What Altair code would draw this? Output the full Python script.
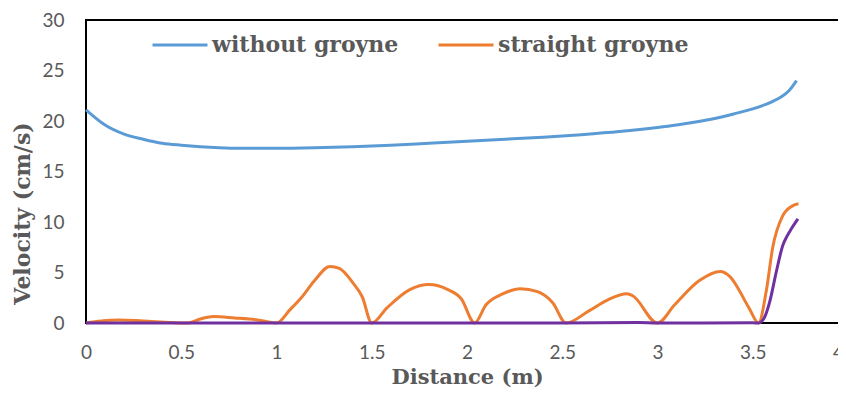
import altair as alt
import pandas as pd

# ---- data ----
blue_x = [0, 0.1, 0.2, 0.3, 0.4, 0.5, 0.6, 0.7, 0.8, 0.9, 1.0, 1.2, 1.4, 1.6, 1.8,
          2.0, 2.2, 2.4, 2.6, 2.8, 3.0, 3.1, 3.2, 3.3, 3.4, 3.5, 3.6, 3.65, 3.69, 3.73]
blue_v = [21.1, 19.6, 18.7, 18.2, 17.8, 17.6, 17.45, 17.35, 17.3, 17.3, 17.3, 17.35,
          17.45, 17.6, 17.8, 18.0, 18.2, 18.4, 18.65, 18.95, 19.35, 19.6, 19.9, 20.25,
          20.7, 21.2, 21.9, 22.4, 23.0, 24.0]

orange_x = [0, 0.08, 0.17, 0.3, 0.45, 0.53, 0.6, 0.67, 0.78, 0.9, 1.0, 1.07, 1.13, 1.2,
            1.28, 1.33, 1.4, 1.45, 1.5, 1.58, 1.7, 1.8, 1.9, 1.97, 2.04, 2.1, 2.19,
            2.28, 2.37, 2.45, 2.52, 2.64, 2.74, 2.84, 2.87, 3.0, 3.09, 3.22, 3.33,
            3.38, 3.48, 3.53, 3.573, 3.604, 3.657, 3.709, 3.74]
orange_v = [0, 0.2, 0.3, 0.2, 0.05, 0, 0.4, 0.65, 0.5, 0.3, 0, 1.3, 2.5, 4.2,
            5.6, 5.4, 4.0, 2.6, 0, 1.5, 3.3, 3.8, 3.3, 2.4, 0, 1.8, 2.9,
            3.4, 3.1, 2.0, 0, 1.2, 2.3, 2.9, 2.7, 0, 1.8, 4.2, 5.1,
            4.6, 1.5, 0, 3.4, 7.4, 10.6, 11.6, 11.8]

purple_x = [0, 0.5, 1.0, 1.5, 2.0, 2.5, 2.9, 3.0, 3.5, 3.53, 3.56, 3.589, 3.624, 3.658,
            3.68, 3.702, 3.737]
purple_v = [0, 0, 0, 0, 0, 0, 0.05, 0, 0.02, 0, 0.5, 2.1, 5.1, 7.7, 8.6, 9.3, 10.3]

series_names = ["without groyne", "straight groyne"]
series_colors = ["#5B9BD5", "#ED7D31"]
purple_color = "#7030A0"

x_ticks = [0, 0.5, 1, 1.5, 2, 2.5, 3, 3.5, 4]
y_ticks = [0, 5, 10, 15, 20, 25, 30]

legend_df = pd.concat([
    pd.DataFrame({"series": series_names[0], "x": blue_x, "v": blue_v}),
    pd.DataFrame({"series": series_names[1], "x": orange_x, "v": orange_v}),
])
purple_df = pd.DataFrame({"x": purple_x, "v": purple_v})

GRAY = "#595959"
TICK_FONT = "Lato"
TITLE_FONT = "DejaVu Serif"

x_enc = alt.X(
    "x:Q",
    scale=alt.Scale(domain=[0, 4], nice=False),
    axis=alt.Axis(
        values=x_ticks, format="~g", title="Distance (m)", grid=False, ticks=False,
        domain=False, labelFlush=False, labelFont=TICK_FONT, labelFontSize=19,
        labelColor=GRAY, labelPadding=20,
        labelOffset=alt.ExprRef("datum.value == 4 ? -10 : 0"),
        titleFont=TITLE_FONT, titleFontSize=21, titleFontWeight="bold",
        titleColor=GRAY, titleBaseline="alphabetic", titleY=60,
    ),
)
y_enc = alt.Y(
    "v:Q",
    scale=alt.Scale(domain=[0, 30], nice=False),
    axis=alt.Axis(
        values=y_ticks, title="Velocity (cm/s)", grid=False, ticks=False, domain=False,
        labelFont=TICK_FONT, labelFontSize=19, labelColor=GRAY, labelPadding=22,
        titleFont=TITLE_FONT, titleFontSize=22, titleFontWeight="bold", titleColor=GRAY,
        titleAngle=270, titleAlign="center", titleBaseline="alphabetic",
        titleX=-57, titleY=193,
    ),
)

main = alt.Chart(legend_df).mark_line(strokeWidth=3, interpolate="monotone").encode(
    x=x_enc,
    y=y_enc,
    color=alt.Color(
        "series:N",
        scale=alt.Scale(domain=series_names, range=series_colors),
        sort=series_names,
        legend=alt.Legend(
            title=None, orient="none", direction="horizontal", legendX=65, legendY=-4,
            symbolType="stroke", symbolSize=3025, symbolStrokeWidth=3,
            labelFont=TITLE_FONT, labelFontSize=22, labelFontWeight="bold",
            labelColor=GRAY, labelLimit=400, labelOffset=3, columnPadding=33,
            padding=0,
        ),
    ),
    detail="series:N",
)

purple = alt.Chart(purple_df).mark_line(
    strokeWidth=3, interpolate="monotone", color=purple_color
).encode(x="x:Q", y="v:Q")

chart = alt.layer(main, purple).properties(
    width=762,
    height=303,
    autosize=alt.AutoSizeParams(type="none"),
    padding={"left": 78, "top": 12, "right": -10, "bottom": 65},
    background="white",
).configure_view(stroke="black", strokeWidth=2)

chart.save("out.html", embed_options={"renderer": "svg", "actions": False})
